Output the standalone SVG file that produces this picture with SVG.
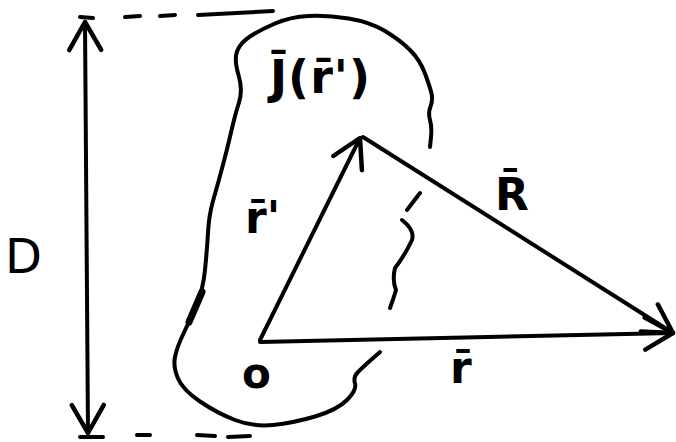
<svg xmlns="http://www.w3.org/2000/svg" width="676" height="442" viewBox="0 0 676 442">
<style>
.ink{fill:none;stroke:#000;stroke-width:4;stroke-linecap:round;stroke-linejoin:round}
.lbl{font-family:"DejaVu Sans",sans-serif;font-weight:bold;fill:#000;font-size:44px}
</style>
<defs>
<marker id="vh" markerUnits="userSpaceOnUse" viewBox="-35 -20 40 40" markerWidth="40" markerHeight="40" refX="0" refY="0" orient="auto-start-reverse" overflow="visible">
<path d="M-28,-16 L0,0 L-28,16" fill="none" stroke="#000" stroke-width="4.5" stroke-linecap="round" stroke-linejoin="round"/>
</marker>
</defs>
<rect width="676" height="442" fill="#fff"/>
<g id="region">
<path class="ink" d="M430,147 L431,137 Q432,127 430,120 Q428,113 430.5,106.5 Q433,100 431.5,93.5 Q430,87 425,73.5 Q420,60 410,50 Q400,40 385,31 Q370,22 348.5,18.5 Q327,15 308.5,16 Q290,17 275,23.5 Q260,30 250,36.5 Q240,43 237,51.5 Q234,60 238.5,75 Q243,90 239,102.5 Q235,115 231,132.5 Q227,150 222,168.5 Q217,187 213,201 Q209,215 208,232.5 Q207,250 205,270 Q203,290 196.5,305 Q190,320 183.5,333.5 Q177,347 175,357 Q173,367 178,378.5 Q183,390 200,401.5 Q217,413 235,420 Q253,427 273,425 Q293,423 315,416.5 Q337,410 347,400 Q357,390 355,383.5 Q353,377 358,372 Q363,367 371.5,359.5 L380,352"/>
<path class="ink" style="stroke-width:7" d="M202,292 L189,322"/>
<text class="lbl" x="270" y="93" style="font-size:46px;letter-spacing:1px">J̄(r̄')</text>
</g>
<g id="origin">
<text class="lbl" x="242" y="388" style="font-size:42px">o</text>
</g>
<g id="angle-mark">
<path class="ink" d="M420,193 L407,210 M402,220 Q415,230 412,240 Q405,255 395,268 Q392,280 396,290 Q393,300 390,308"/>
</g>
<g id="dimension">
<path class="ink" d="M80,17 L93,18 M125,17 L140,16 M160,16 L175,15 M198,15 L273,11"/>
<path class="ink" d="M80,437 L103,437 M137,435 L150,435 M197,435 L215,436 M228,437 L250,436"/>
<text class="lbl" x="5" y="273" style="font-size:48px;font-weight:normal">D</text>
</g>
<g id="connectors">
<path class="ink" d="M85,22 L88,433" marker-start="url(#vh)" marker-end="url(#vh)"/>
<path class="ink" d="M260,340 L360,138" marker-end="url(#vh)"/>
<path class="ink" d="M363,137 L673,333" marker-end="url(#vh)"/>
<path class="ink" d="M260,342 L673,333" marker-end="url(#vh)"/>
</g>
<g id="labels">
<text class="lbl" x="245" y="233">r̄'</text>
<text class="lbl" x="495" y="210">R̄</text>
<text class="lbl" x="450" y="383">r̄</text>
</g>
</svg>
